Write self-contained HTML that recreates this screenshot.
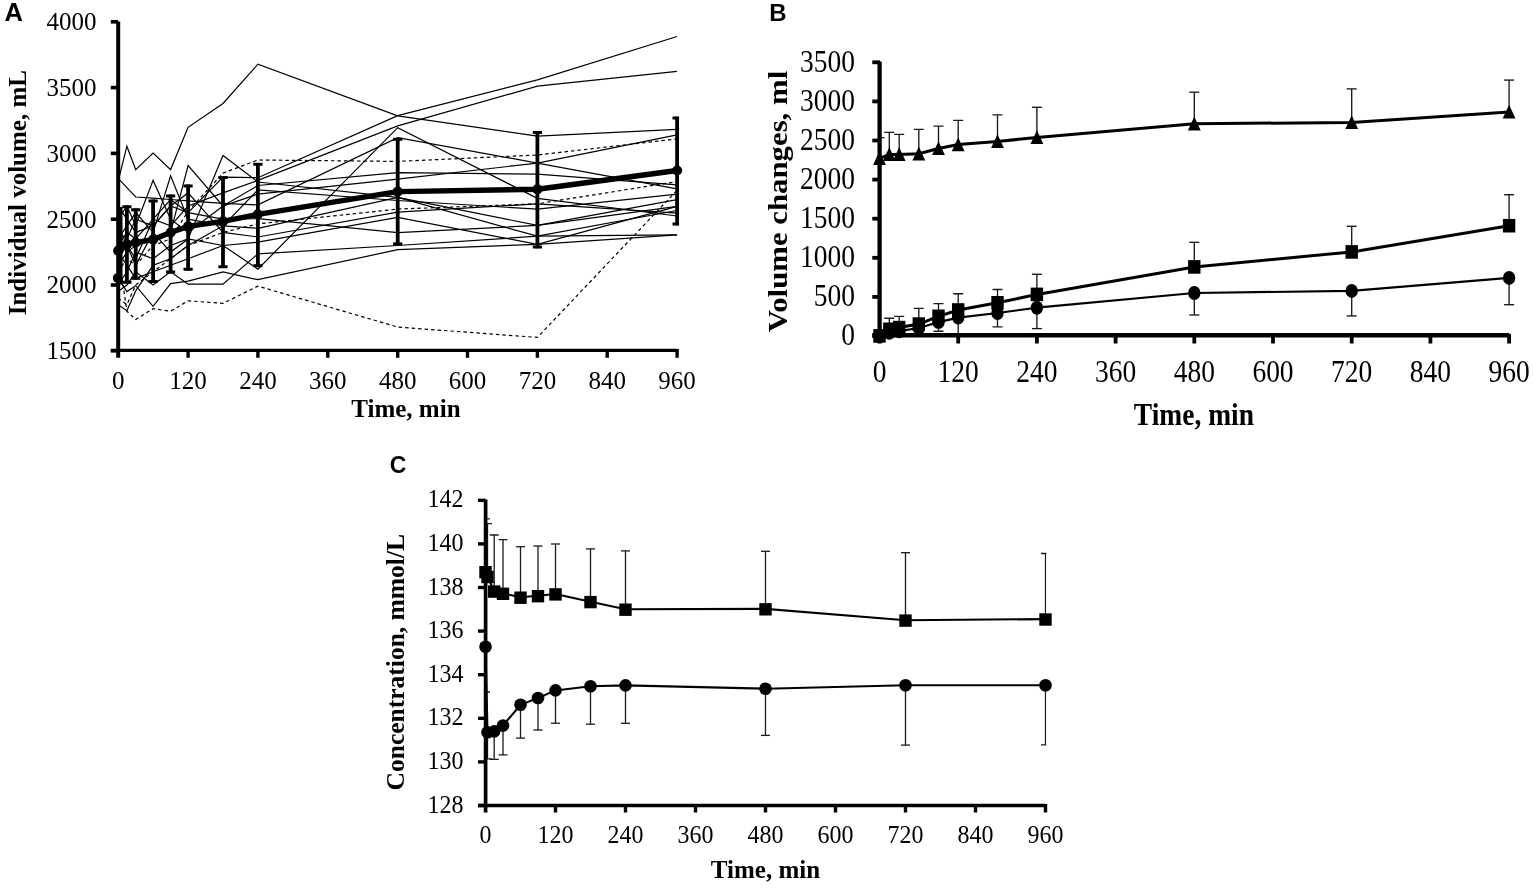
<!DOCTYPE html>
<html><head><meta charset="utf-8"><title>Figure</title>
<style>html,body{margin:0;padding:0;background:#fff;width:1535px;height:888px;overflow:hidden}svg{display:block}</style>
</head><body>
<svg width="1535" height="888" viewBox="0 0 1535 888">
<rect width="1535" height="888" fill="#fff"/>
<defs><clipPath id="ca"><rect x="118.2" y="0" width="560.9" height="400"/></clipPath><clipPath id="cb"><rect x="879.6" y="0" width="650" height="400"/></clipPath><clipPath id="cc"><rect x="485.6" y="450" width="560.7" height="400"/></clipPath></defs>
<g fill="none" stroke="#000" stroke-linejoin="miter">
<polyline points="118.2,181 126.9,146.2 135.7,169.6 153.1,153.1 170.6,169.6 188.1,127.3 223,103.5 257.9,64.2 397.7,115.9 537.4,136.2 677.1,129.4" stroke-width="1.2"/>
<polyline points="118.2,232.4 126.9,238.9 135.7,219.2 153.1,225.8 170.6,206 188.1,212.6 223,177.2 257.9,177.7 397.7,115.6 537.4,79.8 677.1,36.5" stroke-width="1.2"/>
<polyline points="118.2,245.5 126.9,232.4 135.7,238.9 153.1,219.2 170.6,225.8 188.1,206 223,192.9 257.9,180.4 397.7,125.9 537.4,86.2 677.1,71.4" stroke-width="1.2"/>
<polyline points="118.2,258.7 126.9,245.5 135.7,265.3 153.1,232.4 170.6,252.1 188.1,238.9 223,245.5 257.9,269.1 397.7,127.7 537.4,198.4 677.1,216" stroke-width="1.2"/>
<polyline points="118.2,271.8 126.9,258.7 135.7,265.3 153.1,245.5 170.6,238.9 188.1,211.3 223,173.1 257.9,160 397.7,161.4 537.4,155 677.1,138.9" stroke-width="1.2" stroke-dasharray="3.5,3"/>
<polyline points="118.2,252.1 126.9,311.3 135.7,319.5 153.1,308.7 170.6,311.3 188.1,300.8 223,303.4 257.9,286.1 397.7,327.1 537.4,337.4 677.1,190.2" stroke-width="1.2" stroke-dasharray="3.5,3"/>
<polyline points="118.2,178.4 126.9,187.6 135.7,197 153.1,198.1 170.6,199.5 188.1,200.8 223,203.4 257.9,204.9 397.7,137.6 537.4,163.1 677.1,134.8" stroke-width="1.2"/>
<polyline points="118.2,219.2 126.9,206 135.7,225.8 153.1,180.4 170.6,219.2 188.1,232.4 223,206 257.9,185.5 397.7,172.7 537.4,174.1 677.1,184.9" stroke-width="1.2"/>
<polyline points="118.2,238.9 126.9,225.8 135.7,212.6 153.1,232.4 170.6,175.8 188.1,219.2 223,225.8 257.9,189.9 397.7,200.5 537.4,209.2 677.1,194.2" stroke-width="1.2"/>
<polyline points="118.2,298.2 126.9,304.7 135.7,285 153.1,271.8 170.6,258.7 188.1,245.5 223,232.4 257.9,223.9 397.7,209.1 537.4,203.8 677.1,181.6" stroke-width="1.2" stroke-dasharray="3.5,3"/>
<polyline points="118.2,265.3 126.9,252.1 135.7,245.5 153.1,238.9 170.6,232.4 188.1,165.6 223,206 257.9,194.1 397.7,179.1 537.4,163.1 677.1,188.9" stroke-width="1.2"/>
<polyline points="118.2,285 126.9,271.8 135.7,252.1 153.1,258.7 170.6,245.5 188.1,238.9 223,155.5 257.9,182 397.7,197.4 537.4,225.4 677.1,199.7" stroke-width="1.2"/>
<polyline points="118.2,225.8 126.9,245.5 135.7,258.7 153.1,219.2 170.6,199.5 188.1,212.6 223,219.2 257.9,218.7 397.7,232.6 537.4,225.4 677.1,206.4" stroke-width="1.2"/>
<polyline points="118.2,304.7 126.9,310.7 135.7,290.9 153.1,265.3 170.6,258.7 188.1,245.5 223,225.8 257.9,228.3 397.7,197.4 537.4,236.2 677.1,210.5" stroke-width="1.2"/>
<polyline points="118.2,206 126.9,219.2 135.7,232.4 153.1,225.8 170.6,206 188.1,192.9 223,232.4 257.9,237 397.7,212.2 537.4,203.8 677.1,213.1" stroke-width="1.2"/>
<polyline points="118.2,252.1 126.9,265.3 135.7,278.4 153.1,271.8 170.6,265.3 188.1,258.7 223,245.5 257.9,242.2 397.7,217.4 537.4,244.3 677.1,206.4" stroke-width="1.2"/>
<polyline points="118.2,291.6 126.9,285 135.7,271.8 153.1,285 170.6,271.8 188.1,284.2 223,284.2 257.9,253.9 397.7,245.5 537.4,236.2 677.1,234.9" stroke-width="1.2"/>
<polyline points="118.2,278.4 126.9,291.6 135.7,285.7 153.1,306.3 170.6,283.6 188.1,281.1 223,271.8 257.9,279.7 397.7,249.7 537.4,244.3 677.1,234.9" stroke-width="1.2"/>
</g>
<polyline points="118.2,250.7 126.9,244.3 135.7,242.5 153.1,239.6 170.6,232.5 188.1,226.4 223,221.4 257.9,214.3 397.7,191.6 537.4,189.3 677.1,170.5" fill="none" stroke="#000" stroke-width="5.4" stroke-linejoin="round"/>
<g stroke="#000" fill="none" clip-path="url(#ca)">
<line x1="126.9" y1="205.4" x2="126.9" y2="283.6" stroke-width="3.8"/>
<line x1="122.3" y1="206.7" x2="131.5" y2="206.7" stroke-width="3"/>
<line x1="122.3" y1="282.3" x2="131.5" y2="282.3" stroke-width="3"/>
<line x1="135.7" y1="208.4" x2="135.7" y2="279.6" stroke-width="3.8"/>
<line x1="131.1" y1="209.7" x2="140.3" y2="209.7" stroke-width="3"/>
<line x1="131.1" y1="278.3" x2="140.3" y2="278.3" stroke-width="3"/>
<line x1="153.1" y1="199.6" x2="153.1" y2="282.8" stroke-width="3.8"/>
<line x1="148.5" y1="200.9" x2="157.7" y2="200.9" stroke-width="3"/>
<line x1="148.5" y1="281.5" x2="157.7" y2="281.5" stroke-width="3"/>
<line x1="170.6" y1="194.6" x2="170.6" y2="273.4" stroke-width="3.8"/>
<line x1="166" y1="195.9" x2="175.2" y2="195.9" stroke-width="3"/>
<line x1="166" y1="272.1" x2="175.2" y2="272.1" stroke-width="3"/>
<line x1="188.1" y1="184.6" x2="188.1" y2="270.6" stroke-width="3.8"/>
<line x1="183.5" y1="185.9" x2="192.7" y2="185.9" stroke-width="3"/>
<line x1="183.5" y1="269.3" x2="192.7" y2="269.3" stroke-width="3"/>
<line x1="223" y1="176.3" x2="223" y2="268" stroke-width="3.8"/>
<line x1="218.4" y1="177.6" x2="227.6" y2="177.6" stroke-width="3"/>
<line x1="218.4" y1="266.7" x2="227.6" y2="266.7" stroke-width="3"/>
<line x1="257.9" y1="163" x2="257.9" y2="267" stroke-width="3.8"/>
<line x1="253.3" y1="164.3" x2="262.5" y2="164.3" stroke-width="3"/>
<line x1="253.3" y1="265.7" x2="262.5" y2="265.7" stroke-width="3"/>
<line x1="397.7" y1="138" x2="397.7" y2="245.2" stroke-width="3.8"/>
<line x1="393.1" y1="139.3" x2="402.3" y2="139.3" stroke-width="3"/>
<line x1="393.1" y1="243.9" x2="402.3" y2="243.9" stroke-width="3"/>
<line x1="537.4" y1="131.2" x2="537.4" y2="248.3" stroke-width="3.8"/>
<line x1="532.8" y1="132.5" x2="542" y2="132.5" stroke-width="3"/>
<line x1="532.8" y1="247" x2="542" y2="247" stroke-width="3"/>
<line x1="677.1" y1="116.8" x2="677.1" y2="225.3" stroke-width="3.8"/>
<line x1="672.5" y1="118.1" x2="681.7" y2="118.1" stroke-width="3"/>
<line x1="672.5" y1="224" x2="681.7" y2="224" stroke-width="3"/>
<line x1="120.6" y1="207" x2="120.6" y2="284.5" stroke-width="3.8"/>
</g>
<g fill="#000">
<circle cx="118.2" cy="250.7" r="5.1"/>
<circle cx="126.9" cy="244.3" r="5.1"/>
<circle cx="135.7" cy="242.5" r="5.1"/>
<circle cx="153.1" cy="239.6" r="5.1"/>
<circle cx="170.6" cy="232.5" r="5.1"/>
<circle cx="188.1" cy="226.4" r="5.1"/>
<circle cx="223" cy="221.4" r="5.1"/>
<circle cx="257.9" cy="214.3" r="5.1"/>
<circle cx="397.7" cy="191.6" r="5.1"/>
<circle cx="537.4" cy="189.3" r="5.1"/>
<circle cx="677.1" cy="170.5" r="5.1"/>
<circle cx="117.6" cy="278" r="4.8"/>
</g>
<g stroke="#000" fill="none">
<line x1="118.2" y1="21.5" x2="118.2" y2="357.8" stroke-width="4"/>
<line x1="110.8" y1="350.4" x2="677.1" y2="350.4" stroke-width="3.3"/>
<line x1="110.8" y1="21.8" x2="118" y2="21.8" stroke-width="3.6"/>
<line x1="110.8" y1="87.6" x2="118" y2="87.6" stroke-width="3.6"/>
<line x1="110.8" y1="153.4" x2="118" y2="153.4" stroke-width="3.6"/>
<line x1="110.8" y1="219.2" x2="118" y2="219.2" stroke-width="3.6"/>
<line x1="110.8" y1="285" x2="118" y2="285" stroke-width="3.6"/>
<line x1="110.8" y1="350.8" x2="118" y2="350.8" stroke-width="3.6"/>
<line x1="188.1" y1="349" x2="188.1" y2="357.8" stroke-width="3.4"/>
<line x1="257.9" y1="349" x2="257.9" y2="357.8" stroke-width="3.4"/>
<line x1="327.8" y1="349" x2="327.8" y2="357.8" stroke-width="3.4"/>
<line x1="397.7" y1="349" x2="397.7" y2="357.8" stroke-width="3.4"/>
<line x1="467.5" y1="349" x2="467.5" y2="357.8" stroke-width="3.4"/>
<line x1="537.4" y1="349" x2="537.4" y2="357.8" stroke-width="3.4"/>
<line x1="607.2" y1="349" x2="607.2" y2="357.8" stroke-width="3.4"/>
<line x1="677.1" y1="349" x2="677.1" y2="357.8" stroke-width="3.4"/>
</g>
<g style="font-family:'Liberation Serif','Times New Roman',serif;font-size:25px" fill="#000">
<text x="96.5" y="30.1" text-anchor="end">4000</text>
<text x="96.5" y="95.9" text-anchor="end">3500</text>
<text x="96.5" y="161.7" text-anchor="end">3000</text>
<text x="96.5" y="227.5" text-anchor="end">2500</text>
<text x="96.5" y="293.3" text-anchor="end">2000</text>
<text x="96.5" y="359.1" text-anchor="end">1500</text>
<text x="118.2" y="388.6" text-anchor="middle">0</text>
<text x="188.1" y="388.6" text-anchor="middle">120</text>
<text x="257.9" y="388.6" text-anchor="middle">240</text>
<text x="327.8" y="388.6" text-anchor="middle">360</text>
<text x="397.7" y="388.6" text-anchor="middle">480</text>
<text x="467.5" y="388.6" text-anchor="middle">600</text>
<text x="537.4" y="388.6" text-anchor="middle">720</text>
<text x="607.2" y="388.6" text-anchor="middle">840</text>
<text x="677.1" y="388.6" text-anchor="middle">960</text>
<text x="405.9" y="417" text-anchor="middle" font-weight="bold">Time, min</text>
<text transform="translate(25.6,192.7) rotate(-90)" text-anchor="middle" font-weight="bold">Individual volume, mL</text>
</g>
<text x="4.6" y="20.9" style="font-family:'Liberation Sans',Arial,sans-serif;font-size:25.5px;font-weight:bold">A</text>
<g stroke="#1a1a1a" fill="none" stroke-width="1.35" clip-path="url(#cb)">
<line x1="879.5" y1="137.6" x2="879.5" y2="158.3"/>
<line x1="874.5" y1="137.6" x2="884.5" y2="137.6"/>
<line x1="889.3" y1="132.3" x2="889.3" y2="154.4"/>
<line x1="884.3" y1="132.3" x2="894.3" y2="132.3"/>
<line x1="899.2" y1="134.3" x2="899.2" y2="154.4"/>
<line x1="894.2" y1="134.3" x2="904.2" y2="134.3"/>
<line x1="918.8" y1="129.3" x2="918.8" y2="153.8"/>
<line x1="913.8" y1="129.3" x2="923.8" y2="129.3"/>
<line x1="938.5" y1="126.1" x2="938.5" y2="148.5"/>
<line x1="933.5" y1="126.1" x2="943.5" y2="126.1"/>
<line x1="958.2" y1="120.4" x2="958.2" y2="144.6"/>
<line x1="953.2" y1="120.4" x2="963.2" y2="120.4"/>
<line x1="997.5" y1="114.8" x2="997.5" y2="141.4"/>
<line x1="992.5" y1="114.8" x2="1002.5" y2="114.8"/>
<line x1="1036.9" y1="107.3" x2="1036.9" y2="137.5"/>
<line x1="1031.9" y1="107.3" x2="1041.9" y2="107.3"/>
<line x1="1194.3" y1="92.2" x2="1194.3" y2="123.8"/>
<line x1="1189.3" y1="92.2" x2="1199.3" y2="92.2"/>
<line x1="1351.7" y1="88.9" x2="1351.7" y2="122.4"/>
<line x1="1346.7" y1="88.9" x2="1356.7" y2="88.9"/>
<line x1="1509.1" y1="80.1" x2="1509.1" y2="112"/>
<line x1="1504.1" y1="80.1" x2="1514.1" y2="80.1"/>
<line x1="889.3" y1="318.2" x2="889.3" y2="329.3"/>
<line x1="884.3" y1="318.2" x2="894.3" y2="318.2"/>
<line x1="899.2" y1="316.3" x2="899.2" y2="327.6"/>
<line x1="894.2" y1="316.3" x2="904.2" y2="316.3"/>
<line x1="918.8" y1="308.4" x2="918.8" y2="324.1"/>
<line x1="913.8" y1="308.4" x2="923.8" y2="308.4"/>
<line x1="938.5" y1="303.6" x2="938.5" y2="316.3"/>
<line x1="933.5" y1="303.6" x2="943.5" y2="303.6"/>
<line x1="958.2" y1="293.7" x2="958.2" y2="310"/>
<line x1="953.2" y1="293.7" x2="963.2" y2="293.7"/>
<line x1="997.5" y1="289.5" x2="997.5" y2="302.8"/>
<line x1="992.5" y1="289.5" x2="1002.5" y2="289.5"/>
<line x1="1036.9" y1="274.3" x2="1036.9" y2="294.4"/>
<line x1="1031.9" y1="274.3" x2="1041.9" y2="274.3"/>
<line x1="1194.3" y1="242.3" x2="1194.3" y2="266.9"/>
<line x1="1189.3" y1="242.3" x2="1199.3" y2="242.3"/>
<line x1="1351.7" y1="226.3" x2="1351.7" y2="251.9"/>
<line x1="1346.7" y1="226.3" x2="1356.7" y2="226.3"/>
<line x1="1509.1" y1="194.7" x2="1509.1" y2="225.7"/>
<line x1="1504.1" y1="194.7" x2="1514.1" y2="194.7"/>
<line x1="938.5" y1="322.1" x2="938.5" y2="331.2"/>
<line x1="933.5" y1="331.2" x2="943.5" y2="331.2"/>
<line x1="958.2" y1="317.6" x2="958.2" y2="335"/>
<line x1="953.2" y1="335" x2="963.2" y2="335"/>
<line x1="997.5" y1="313" x2="997.5" y2="326.9"/>
<line x1="992.5" y1="326.9" x2="1002.5" y2="326.9"/>
<line x1="1036.9" y1="307.7" x2="1036.9" y2="328.6"/>
<line x1="1031.9" y1="328.6" x2="1041.9" y2="328.6"/>
<line x1="1194.3" y1="293" x2="1194.3" y2="315"/>
<line x1="1189.3" y1="315" x2="1199.3" y2="315"/>
<line x1="1351.7" y1="290.9" x2="1351.7" y2="315.9"/>
<line x1="1346.7" y1="315.9" x2="1356.7" y2="315.9"/>
<line x1="1509.1" y1="277.9" x2="1509.1" y2="304.7"/>
<line x1="1504.1" y1="304.7" x2="1514.1" y2="304.7"/>
</g>
<polyline points="879.5,158.3 889.3,154.4 899.2,154.4 918.8,153.8 938.5,148.5 958.2,144.6 997.5,141.4 1036.9,137.5 1194.3,123.8 1351.7,122.4 1509.1,112" fill="none" stroke="#000" stroke-width="3"/>
<polyline points="879.5,335.9 889.3,329.3 899.2,327.6 918.8,324.1 938.5,316.3 958.2,310 997.5,302.8 1036.9,294.4 1194.3,266.9 1351.7,251.9 1509.1,225.7" fill="none" stroke="#000" stroke-width="3"/>
<polyline points="879.5,335.9 889.3,332.8 899.2,331.2 918.8,328 938.5,322.1 958.2,317.6 997.5,313 1036.9,307.7 1194.3,293 1351.7,290.9 1509.1,277.9" fill="none" stroke="#000" stroke-width="2.2"/>
<g fill="#000">
<ellipse cx="879.5" cy="335.9" rx="6.2" ry="7"/>
<ellipse cx="889.3" cy="332.8" rx="6.2" ry="7"/>
<ellipse cx="899.2" cy="331.2" rx="6.2" ry="7"/>
<ellipse cx="918.8" cy="328" rx="6.2" ry="7"/>
<ellipse cx="938.5" cy="322.1" rx="6.2" ry="7"/>
<ellipse cx="958.2" cy="317.6" rx="6.2" ry="7"/>
<ellipse cx="997.5" cy="313" rx="6.2" ry="7"/>
<ellipse cx="1036.9" cy="307.7" rx="6.2" ry="7"/>
<ellipse cx="1194.3" cy="293" rx="6.2" ry="7"/>
<ellipse cx="1351.7" cy="290.9" rx="6.2" ry="7"/>
<ellipse cx="1509.1" cy="277.9" rx="6.2" ry="7"/>
<rect x="873.3" y="329.1" width="12.4" height="13.6"/>
<rect x="883.1" y="322.5" width="12.4" height="13.6"/>
<rect x="893" y="320.8" width="12.4" height="13.6"/>
<rect x="912.6" y="317.3" width="12.4" height="13.6"/>
<rect x="932.3" y="309.5" width="12.4" height="13.6"/>
<rect x="952" y="303.2" width="12.4" height="13.6"/>
<rect x="991.3" y="296" width="12.4" height="13.6"/>
<rect x="1030.7" y="287.6" width="12.4" height="13.6"/>
<rect x="1188.1" y="260.1" width="12.4" height="13.6"/>
<rect x="1345.5" y="245.1" width="12.4" height="13.6"/>
<rect x="1502.9" y="218.9" width="12.4" height="13.6"/>
<polygon points="879.5,151.1 873.1,164.9 885.9,164.9"/>
<polygon points="889.3,147.2 882.9,161 895.7,161"/>
<polygon points="899.2,147.2 892.8,161 905.6,161"/>
<polygon points="918.8,146.6 912.4,160.4 925.2,160.4"/>
<polygon points="938.5,141.3 932.1,155.1 944.9,155.1"/>
<polygon points="958.2,137.4 951.8,151.2 964.6,151.2"/>
<polygon points="997.5,134.2 991.1,148 1003.9,148"/>
<polygon points="1036.9,130.3 1030.5,144.1 1043.3,144.1"/>
<polygon points="1194.3,116.6 1187.9,130.4 1200.7,130.4"/>
<polygon points="1351.7,115.2 1345.3,129 1358.1,129"/>
<polygon points="1509.1,104.8 1502.7,118.6 1515.5,118.6"/>
</g>
<g stroke="#000" fill="none">
<line x1="879.6" y1="61.5" x2="879.6" y2="343.5" stroke-width="4.3"/>
<line x1="872.3" y1="335.3" x2="1509.2" y2="335.3" stroke-width="4.6"/>
<line x1="872.3" y1="62.3" x2="880" y2="62.3" stroke-width="3.8"/>
<line x1="872.3" y1="101.4" x2="880" y2="101.4" stroke-width="3.8"/>
<line x1="872.3" y1="140.5" x2="880" y2="140.5" stroke-width="3.8"/>
<line x1="872.3" y1="179.6" x2="880" y2="179.6" stroke-width="3.8"/>
<line x1="872.3" y1="218.7" x2="880" y2="218.7" stroke-width="3.8"/>
<line x1="872.3" y1="257.8" x2="880" y2="257.8" stroke-width="3.8"/>
<line x1="872.3" y1="296.9" x2="880" y2="296.9" stroke-width="3.8"/>
<line x1="872.3" y1="336" x2="880" y2="336" stroke-width="3.8"/>
<line x1="958.2" y1="334" x2="958.2" y2="343.5" stroke-width="3.8"/>
<line x1="1036.9" y1="334" x2="1036.9" y2="343.5" stroke-width="3.8"/>
<line x1="1115.6" y1="334" x2="1115.6" y2="343.5" stroke-width="3.8"/>
<line x1="1194.3" y1="334" x2="1194.3" y2="343.5" stroke-width="3.8"/>
<line x1="1273" y1="334" x2="1273" y2="343.5" stroke-width="3.8"/>
<line x1="1351.7" y1="334" x2="1351.7" y2="343.5" stroke-width="3.8"/>
<line x1="1430.4" y1="334" x2="1430.4" y2="343.5" stroke-width="3.8"/>
<line x1="1509.1" y1="334" x2="1509.1" y2="343.5" stroke-width="3.8"/>
</g>
<g style="font-family:'Liberation Serif','Times New Roman',serif;font-size:27.5px" fill="#000">
<text transform="translate(855,71.6) scale(1,1.12)" text-anchor="end">3500</text>
<text transform="translate(855,110.7) scale(1,1.12)" text-anchor="end">3000</text>
<text transform="translate(855,149.8) scale(1,1.12)" text-anchor="end">2500</text>
<text transform="translate(855,188.9) scale(1,1.12)" text-anchor="end">2000</text>
<text transform="translate(855,228) scale(1,1.12)" text-anchor="end">1500</text>
<text transform="translate(855,267.1) scale(1,1.12)" text-anchor="end">1000</text>
<text transform="translate(855,306.2) scale(1,1.12)" text-anchor="end">500</text>
<text transform="translate(855,345.3) scale(1,1.12)" text-anchor="end">0</text>
<text transform="translate(879.5,381.6) scale(1,1.12)" text-anchor="middle">0</text>
<text transform="translate(958.2,381.6) scale(1,1.12)" text-anchor="middle">120</text>
<text transform="translate(1036.9,381.6) scale(1,1.12)" text-anchor="middle">240</text>
<text transform="translate(1115.6,381.6) scale(1,1.12)" text-anchor="middle">360</text>
<text transform="translate(1194.3,381.6) scale(1,1.12)" text-anchor="middle">480</text>
<text transform="translate(1273,381.6) scale(1,1.12)" text-anchor="middle">600</text>
<text transform="translate(1351.7,381.6) scale(1,1.12)" text-anchor="middle">720</text>
<text transform="translate(1430.4,381.6) scale(1,1.12)" text-anchor="middle">840</text>
<text transform="translate(1509.1,381.6) scale(1,1.12)" text-anchor="middle">960</text>
<text transform="translate(1193.9,424.9) scale(1,1.12)" text-anchor="middle" font-weight="bold">Time, min</text>
<text transform="translate(786.8,201.5) rotate(-90) scale(1.12,1)" text-anchor="middle" font-weight="bold">Volume changes, ml</text>
</g>
<text x="769.3" y="21.3" style="font-family:'Liberation Sans',Arial,sans-serif;font-size:24px;font-weight:bold">B</text>
<g stroke="#1a1a1a" fill="none" stroke-width="1.3" clip-path="url(#cc)">
<line x1="485.5" y1="518.9" x2="485.5" y2="571.8"/>
<line x1="481" y1="518.9" x2="490" y2="518.9"/>
<line x1="487.5" y1="523.6" x2="487.5" y2="576.6"/>
<line x1="483" y1="523.6" x2="492" y2="523.6"/>
<line x1="494.2" y1="535" x2="494.2" y2="591.2"/>
<line x1="489.7" y1="535" x2="498.7" y2="535"/>
<line x1="503" y1="539.7" x2="503" y2="593.4"/>
<line x1="498.5" y1="539.7" x2="507.5" y2="539.7"/>
<line x1="520.5" y1="546.7" x2="520.5" y2="597.3"/>
<line x1="516" y1="546.7" x2="525" y2="546.7"/>
<line x1="538" y1="546" x2="538" y2="595.8"/>
<line x1="533.5" y1="546" x2="542.5" y2="546"/>
<line x1="555.5" y1="544" x2="555.5" y2="594"/>
<line x1="551" y1="544" x2="560" y2="544"/>
<line x1="590.5" y1="548.9" x2="590.5" y2="601.7"/>
<line x1="586" y1="548.9" x2="595" y2="548.9"/>
<line x1="625.5" y1="550.9" x2="625.5" y2="609.3"/>
<line x1="621" y1="550.9" x2="630" y2="550.9"/>
<line x1="765.5" y1="551.3" x2="765.5" y2="608.9"/>
<line x1="761" y1="551.3" x2="770" y2="551.3"/>
<line x1="905.5" y1="552.7" x2="905.5" y2="620.2"/>
<line x1="901" y1="552.7" x2="910" y2="552.7"/>
<line x1="1045.5" y1="553.5" x2="1045.5" y2="619.1"/>
<line x1="1041" y1="553.5" x2="1050" y2="553.5"/>
<line x1="485.5" y1="646.8" x2="485.5" y2="692"/>
<line x1="481" y1="692" x2="490" y2="692"/>
<line x1="487.5" y1="732.3" x2="487.5" y2="758.8"/>
<line x1="483" y1="758.8" x2="492" y2="758.8"/>
<line x1="494.2" y1="731.4" x2="494.2" y2="759.4"/>
<line x1="489.7" y1="759.4" x2="498.7" y2="759.4"/>
<line x1="503" y1="725.5" x2="503" y2="754.9"/>
<line x1="498.5" y1="754.9" x2="507.5" y2="754.9"/>
<line x1="520.5" y1="704.8" x2="520.5" y2="738.1"/>
<line x1="516" y1="738.1" x2="525" y2="738.1"/>
<line x1="538" y1="698" x2="538" y2="730"/>
<line x1="533.5" y1="730" x2="542.5" y2="730"/>
<line x1="555.5" y1="690.4" x2="555.5" y2="723.2"/>
<line x1="551" y1="723.2" x2="560" y2="723.2"/>
<line x1="590.5" y1="686.3" x2="590.5" y2="724.2"/>
<line x1="586" y1="724.2" x2="595" y2="724.2"/>
<line x1="625.5" y1="685.4" x2="625.5" y2="723.3"/>
<line x1="621" y1="723.3" x2="630" y2="723.3"/>
<line x1="765.5" y1="688.7" x2="765.5" y2="735.4"/>
<line x1="761" y1="735.4" x2="770" y2="735.4"/>
<line x1="905.5" y1="685.2" x2="905.5" y2="745.1"/>
<line x1="901" y1="745.1" x2="910" y2="745.1"/>
<line x1="1045.5" y1="685.2" x2="1045.5" y2="744.8"/>
<line x1="1041" y1="744.8" x2="1050" y2="744.8"/>
</g>
<polyline points="485.5,571.8 487.5,576.6 494.2,591.2 503,593.4 520.5,597.3 538,595.8 555.5,594 590.5,601.7 625.5,609.3 765.5,608.9 905.5,620.2 1045.5,619.1" fill="none" stroke="#000" stroke-width="2.1"/>
<polyline points="485.5,646.8 487.5,732.3 494.2,731.4 503,725.5 520.5,704.8 538,698 555.5,690.4 590.5,686.3 625.5,685.4 765.5,688.7 905.5,685.2 1045.5,685.2" fill="none" stroke="#000" stroke-width="2.1"/>
<g fill="#000">
<circle cx="485.5" cy="646.8" r="6.3"/>
<circle cx="487.5" cy="732.3" r="6.3"/>
<circle cx="494.2" cy="731.4" r="6.3"/>
<circle cx="503" cy="725.5" r="6.3"/>
<circle cx="520.5" cy="704.8" r="6.3"/>
<circle cx="538" cy="698" r="6.3"/>
<circle cx="555.5" cy="690.4" r="6.3"/>
<circle cx="590.5" cy="686.3" r="6.3"/>
<circle cx="625.5" cy="685.4" r="6.3"/>
<circle cx="765.5" cy="688.7" r="6.3"/>
<circle cx="905.5" cy="685.2" r="6.3"/>
<circle cx="1045.5" cy="685.2" r="6.3"/>
<rect x="479.3" y="566" width="12.4" height="12.4"/>
<rect x="481.3" y="570.8" width="12.4" height="12.4"/>
<rect x="488" y="585.4" width="12.4" height="12.4"/>
<rect x="496.8" y="587.6" width="12.4" height="12.4"/>
<rect x="514.3" y="591.5" width="12.4" height="12.4"/>
<rect x="531.8" y="590" width="12.4" height="12.4"/>
<rect x="549.3" y="588.2" width="12.4" height="12.4"/>
<rect x="584.3" y="595.9" width="12.4" height="12.4"/>
<rect x="619.3" y="603.5" width="12.4" height="12.4"/>
<rect x="759.3" y="603.1" width="12.4" height="12.4"/>
<rect x="899.3" y="614.4" width="12.4" height="12.4"/>
<rect x="1039.3" y="613.3" width="12.4" height="12.4"/>
</g>
<g stroke="#000" fill="none">
<line x1="485.6" y1="499.5" x2="485.6" y2="812.5" stroke-width="3.7"/>
<line x1="478" y1="805.5" x2="1045.5" y2="805.5" stroke-width="3.4"/>
<line x1="478" y1="500.3" x2="485.5" y2="500.3" stroke-width="3.4"/>
<line x1="478" y1="543.9" x2="485.5" y2="543.9" stroke-width="3.4"/>
<line x1="478" y1="587.5" x2="485.5" y2="587.5" stroke-width="3.4"/>
<line x1="478" y1="631.1" x2="485.5" y2="631.1" stroke-width="3.4"/>
<line x1="478" y1="674.7" x2="485.5" y2="674.7" stroke-width="3.4"/>
<line x1="478" y1="718.3" x2="485.5" y2="718.3" stroke-width="3.4"/>
<line x1="478" y1="761.9" x2="485.5" y2="761.9" stroke-width="3.4"/>
<line x1="478" y1="805.5" x2="485.5" y2="805.5" stroke-width="3.4"/>
<line x1="555.5" y1="804" x2="555.5" y2="812.5" stroke-width="3.4"/>
<line x1="625.5" y1="804" x2="625.5" y2="812.5" stroke-width="3.4"/>
<line x1="695.5" y1="804" x2="695.5" y2="812.5" stroke-width="3.4"/>
<line x1="765.5" y1="804" x2="765.5" y2="812.5" stroke-width="3.4"/>
<line x1="835.5" y1="804" x2="835.5" y2="812.5" stroke-width="3.4"/>
<line x1="905.5" y1="804" x2="905.5" y2="812.5" stroke-width="3.4"/>
<line x1="975.5" y1="804" x2="975.5" y2="812.5" stroke-width="3.4"/>
<line x1="1045.5" y1="804" x2="1045.5" y2="812.5" stroke-width="3.4"/>
</g>
<g style="font-family:'Liberation Serif','Times New Roman',serif;font-size:24px" fill="#000">
<text transform="translate(463.5,507.3) scale(1,1.08)" text-anchor="end">142</text>
<text transform="translate(463.5,550.9) scale(1,1.08)" text-anchor="end">140</text>
<text transform="translate(463.5,594.5) scale(1,1.08)" text-anchor="end">138</text>
<text transform="translate(463.5,638.1) scale(1,1.08)" text-anchor="end">136</text>
<text transform="translate(463.5,681.7) scale(1,1.08)" text-anchor="end">134</text>
<text transform="translate(463.5,725.3) scale(1,1.08)" text-anchor="end">132</text>
<text transform="translate(463.5,768.9) scale(1,1.08)" text-anchor="end">130</text>
<text transform="translate(463.5,812.5) scale(1,1.08)" text-anchor="end">128</text>
<text transform="translate(485.5,843.2) scale(1,1.08)" text-anchor="middle">0</text>
<text transform="translate(555.5,843.2) scale(1,1.08)" text-anchor="middle">120</text>
<text transform="translate(625.5,843.2) scale(1,1.08)" text-anchor="middle">240</text>
<text transform="translate(695.5,843.2) scale(1,1.08)" text-anchor="middle">360</text>
<text transform="translate(765.5,843.2) scale(1,1.08)" text-anchor="middle">480</text>
<text transform="translate(835.5,843.2) scale(1,1.08)" text-anchor="middle">600</text>
<text transform="translate(905.5,843.2) scale(1,1.08)" text-anchor="middle">720</text>
<text transform="translate(975.5,843.2) scale(1,1.08)" text-anchor="middle">840</text>
<text transform="translate(1045.5,843.2) scale(1,1.08)" text-anchor="middle">960</text>
<text x="765.5" y="877.9" text-anchor="middle" font-weight="bold" style="font-size:25px">Time, min</text>
<text transform="translate(403.5,662.2) rotate(-90)" text-anchor="middle" font-weight="bold" style="font-size:25.5px">Concentration, mmol/L</text>
</g>
<text x="389.8" y="472.8" style="font-family:'Liberation Sans',Arial,sans-serif;font-size:23px;font-weight:bold">C</text>
</svg>
</body></html>
